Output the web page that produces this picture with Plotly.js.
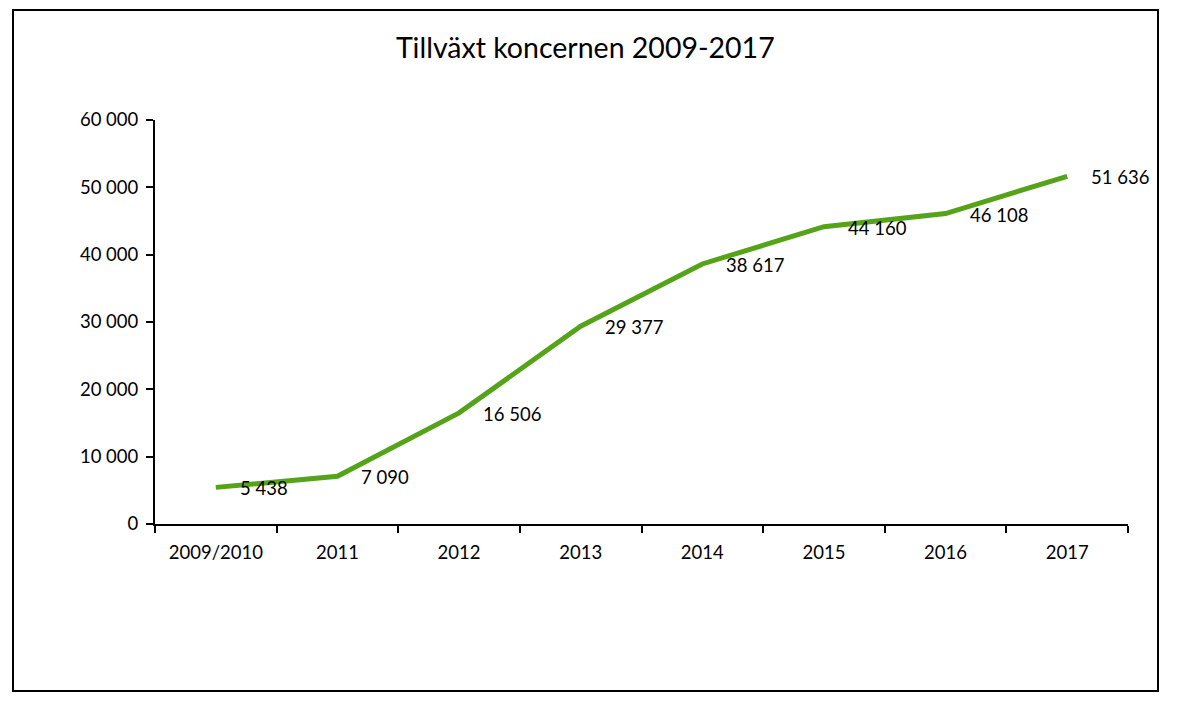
<!DOCTYPE html>
<html>
<head>
<meta charset="utf-8">
<script src="https://cdn.plot.ly/plotly-3.0.1.min.js"></script>
<style>
html,body{margin:0;padding:0;background:#fff;}
#chart{width:1180px;height:713px;}
</style>
</head>
<body>
<div id="chart"></div>
<script>
const categories = ["2009/2010","2011","2012","2013","2014","2015","2016","2017"];
const values = [5438, 7090, 16506, 29377, 38617, 44160, 46108, 51636];
const yTicks = [0, 10000, 20000, 30000, 40000, 50000, 60000];

function fmt(n){ return String(n).replace(/\B(?=(\d{3})+(?!\d))/g, " "); }

const font = "Lato, 'Open Sans', sans-serif";

const trace = {
  x: categories, y: values, type: "scatter", mode: "lines",
  line: {color: "#55a318", width: 5},
  hoverinfo: "skip"
};

const annotations = categories.map((c, i) => ({
  x: i, y: values[i], xref: "x", yref: "y",
  text: fmt(values[i]), showarrow: false,
  xanchor: "left", yanchor: "middle", xshift: 22, yshift: -1,
  font: {family: font, size: 18.5, color: "#000"}
}));

const layout = {
  width: 1180, height: 713,
  margin: {l: 155, r: 52, t: 120, b: 189},
  paper_bgcolor: "#fff", plot_bgcolor: "#fff",
  showlegend: false,
  separators: ", ",
  title: {text: "Tillväxt koncernen 2009-2017", x: 0.496, xanchor: "center", y: 0.932, yanchor: "middle",
          font: {family: font, size: 28.5, color: "#000"}},
  xaxis: {
    type: "category", range: [-0.5, 7.5],
    showline: true, linecolor: "#000", linewidth: 2,
    ticks: "outside", tickson: "boundaries", ticklen: 7, tickwidth: 2, tickcolor: "#000",
    ticklabelstandoff: 11,
    showgrid: false, zeroline: false,
    tickfont: {family: font, size: 18.5, color: "#000"}
  },
  yaxis: {
    range: [0, 60000], tickvals: yTicks, ticktext: yTicks.map(fmt),
    showline: true, linecolor: "#000", linewidth: 2,
    ticks: "outside", ticklen: 7, tickwidth: 2, tickcolor: "#000",
    ticklabelstandoff: 4,
    showgrid: false, zeroline: false,
    tickfont: {family: font, size: 18.5, color: "#000"}
  },
  annotations: annotations,
  shapes: [{
    type: "rect", xref: "paper", yref: "paper",
    x0: (13-155)/973, x1: (1158-155)/973, y0: (524-691)/404, y1: (524-10)/404,
    line: {color: "#000", width: 2}, fillcolor: "rgba(0,0,0,0)"
  }]
};

Plotly.newPlot("chart", [trace], layout, {displayModeBar: false, staticPlot: true});
</script>
</body>
</html>
